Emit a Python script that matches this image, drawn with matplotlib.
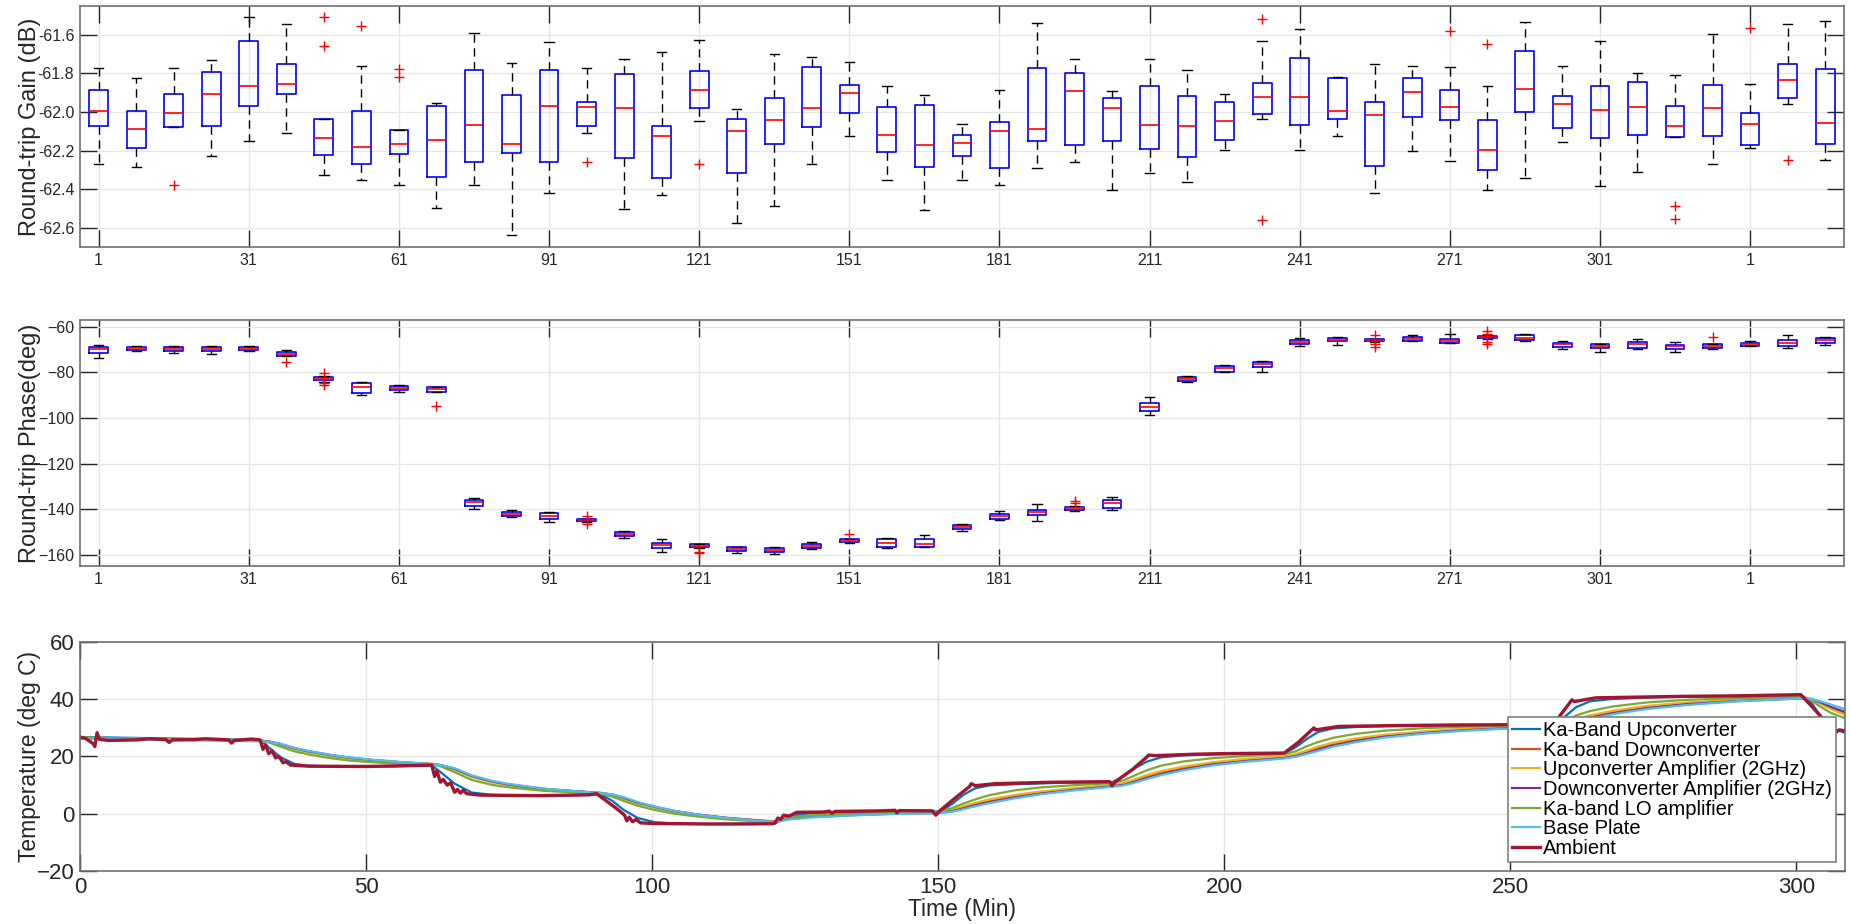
import numpy as np
import matplotlib.pyplot as plt

plt.rcParams['font.family'] = ['Liberation Sans', 'DejaVu Sans']

# ---------------------------------------------------------------- box data
# 47 windows, x tick every 4th window
tick_labels = ['1', '31', '61', '91', '121', '151', '181', '211', '241', '271', '301', '1']

gain_hi = [-61.772, -61.826, -61.772, -61.729, -61.505, -61.545, -62.036, -61.759, -62.091, -61.953,
           -61.588, -61.747, -61.636, -61.769, -61.724, -61.691, -61.626, -61.984, -61.700, -61.712,
           -61.738, -61.867, -61.914, -62.062, -61.888, -61.536, -61.726, -61.893, -61.726, -61.784,
           -61.905, -61.634, -61.569, -61.816, -61.750, -61.760, -61.764, -61.864, -61.531, -61.759,
           -61.631, -61.795, -61.809, -61.595, -61.857, -61.545, -61.526]
gain_q3 = [-61.888, -61.997, -61.905, -61.790, -61.629, -61.750, -62.036, -61.997, -62.091, -61.971,
           -61.781, -61.914, -61.781, -61.948, -61.802, -62.074, -61.786, -62.034, -61.926, -61.767,
           -61.862, -61.976, -61.962, -62.121, -62.053, -61.772, -61.795, -61.929, -61.864, -61.916,
           -61.948, -61.850, -61.721, -61.824, -61.948, -61.826, -61.884, -62.043, -61.683, -61.916,
           -61.864, -61.843, -61.967, -61.862, -62.005, -61.752, -61.778]
gain_med = [-61.993, -62.088, -62.005, -61.907, -61.867, -61.855, -62.133, -62.183, -62.165, -62.143,
            -62.066, -62.164, -61.967, -61.974, -61.979, -62.126, -61.888, -62.097, -62.040, -61.979,
            -61.902, -62.117, -62.169, -62.160, -62.100, -62.086, -61.890, -61.979, -62.066, -62.071,
            -62.048, -61.924, -61.924, -61.993, -62.017, -61.897, -61.974, -62.195, -61.881, -61.959,
            -61.991, -61.974, -62.074, -61.979, -62.060, -61.833, -62.057]
gain_q1 = [-62.074, -62.186, -62.079, -62.071, -61.971, -61.907, -62.221, -62.267, -62.217, -62.336,
           -62.259, -62.212, -62.259, -62.071, -62.238, -62.341, -61.979, -62.315, -62.166, -62.078,
           -62.005, -62.205, -62.284, -62.226, -62.290, -62.152, -62.169, -62.152, -62.190, -62.233,
           -62.147, -62.010, -62.069, -62.036, -62.278, -62.028, -62.040, -62.302, -62.000, -62.083,
           -62.134, -62.117, -62.131, -62.126, -62.171, -61.928, -62.164]
gain_lo = [-62.272, -62.284, -62.079, -62.226, -62.152, -62.109, -62.328, -62.350, -62.380, -62.496,
           -62.376, -62.638, -62.422, -62.109, -62.502, -62.431, -62.045, -62.578, -62.488, -62.269,
           -62.122, -62.355, -62.509, -62.353, -62.376, -62.290, -62.259, -62.402, -62.315, -62.364,
           -62.198, -62.034, -62.195, -62.122, -62.422, -62.203, -62.252, -62.402, -62.341, -62.157,
           -62.384, -62.312, -62.131, -62.267, -62.188, -61.957, -62.247]
gain_out = {3: [-62.38], 7: [-61.505, -61.66], 8: [-61.553], 9: [-61.776, -61.816], 14: [-62.259],
            17: [-62.269], 32: [-61.519, -62.56], 37: [-61.579], 38: [-61.648], 43: [-62.488, -62.557],
            45: [-61.566], 46: [-62.25]}

phase_hi = [-68.0, -68.5, -68.5, -68.5, -68.5, -70.2, -81.6, -84.0, -85.4, -86.2,
            -135.0, -140.6, -141.1, -144.2, -149.5, -153.0, -155.2, -156.5, -156.8, -154.6,
            -153.0, -152.7, -151.4, -146.4, -141.0, -137.8, -138.5, -134.9, -90.6, -81.6,
            -76.7, -74.9, -64.8, -64.4, -65.3, -63.5, -62.9, -63.7, -63.1, -66.4,
            -67.6, -65.4, -66.6, -67.3, -66.4, -63.4, -64.4]
phase_q3 = [-68.8, -68.8, -68.8, -68.9, -68.9, -71.1, -82.1, -84.6, -85.9, -86.5,
            -136.0, -141.3, -141.9, -144.5, -150.1, -154.7, -155.5, -156.6, -157.1, -155.3,
            -153.3, -153.3, -153.3, -147.0, -142.2, -140.4, -139.1, -136.0, -93.6, -82.2,
            -77.0, -75.2, -65.6, -64.7, -65.4, -64.4, -65.1, -63.9, -63.5, -67.0,
            -67.7, -66.7, -67.9, -67.7, -67.0, -65.6, -64.8]
phase_med = [-69.9, -69.4, -69.6, -69.6, -69.6, -71.7, -82.8, -86.6, -86.9, -87.3,
             -137.0, -142.2, -143.0, -144.9, -150.9, -155.8, -156.1, -157.4, -157.8, -156.2,
             -153.9, -154.9, -155.3, -147.9, -143.0, -141.3, -139.7, -137.3, -95.1, -83.0,
             -78.1, -76.5, -66.7, -65.6, -65.8, -65.3, -66.0, -64.4, -64.7, -67.7,
             -68.3, -67.7, -68.6, -68.3, -67.5, -66.9, -65.6]
phase_q1 = [-71.4, -70.1, -70.5, -70.4, -70.2, -72.6, -83.4, -89.2, -87.9, -88.4,
            -138.5, -143.1, -144.3, -145.4, -152.0, -157.2, -156.8, -158.4, -158.7, -157.2,
            -154.4, -156.5, -156.5, -148.7, -144.2, -142.6, -140.4, -139.4, -97.0, -83.8,
            -79.6, -77.8, -67.7, -66.4, -66.4, -66.1, -67.0, -64.8, -65.8, -68.8,
            -69.2, -69.2, -69.5, -69.4, -68.2, -68.5, -67.0]
phase_lo = [-73.5, -70.4, -71.5, -72.0, -70.7, -72.9, -84.0, -90.0, -88.7, -88.5,
            -139.8, -143.6, -145.8, -145.7, -152.7, -159.0, -157.2, -159.1, -159.7, -157.5,
            -154.7, -157.2, -156.8, -149.8, -144.9, -145.2, -140.8, -140.3, -98.5, -84.1,
            -80.0, -79.9, -68.5, -68.0, -66.7, -66.4, -67.0, -65.1, -66.4, -69.9,
            -70.8, -69.9, -71.0, -69.9, -68.3, -69.1, -68.0]
phase_out = {6: [-75.5], 7: [-80.3, -84.8, -85.5], 10: [-94.6], 14: [-143.0, -146.5],
             17: [-158.7, -159.4], 21: [-150.8], 27: [-136.3, -137.3], 35: [-63.5, -67.7, -68.8],
             38: [-61.9, -62.9, -66.6, -67.7], 44: [-64.4]}

# ---------------------------------------------------------------- temperatures
temp_names = ['Ka-Band Upconverter', 'Ka-band Downconverter', 'Upconverter Amplifier (2GHz)',
              'Downconverter Amplifier (2GHz)', 'Ka-band LO amplifier', 'Base Plate', 'Ambient']
temp_colors = ['#0072BD', '#D95319', '#EDB120', '#7E2F8E', '#77AC30', '#4DBEEE', '#A2142F']

t_sens = [0, 31.5, 33, 35, 37.5, 40, 43.5, 47, 51, 56, 61.5,
          63, 65.5, 68.5, 72, 75, 81, 87, 91,
          93, 95, 97.5, 100.5, 104, 108, 113, 118, 121.5,
          124, 128, 135, 142, 150.5,
          152.5, 154.5, 156.5, 159, 163.5, 168, 174, 180.5,
          182.5, 184.5, 186.5, 189, 193, 198, 204, 210.5,
          212.5, 214.5, 216.5, 219, 223, 228, 235, 242, 250, 257.5,
          259.5, 261.5, 264, 268, 274, 281, 290, 301,
          302.5, 304, 306, 308.5]

ka_up = [26.8, 25.8, 23.2, 19.8, 17.4, 16.8, 16.6, 16.5, 16.5, 16.6, 16.9,
         14.6, 10.5, 7.4, 6.6, 6.4, 6.3, 6.5, 6.8,
         4.6, 1.4, -1.5, -3.0, -3.4, -3.5, -3.6, -3.6, -3.4,
         -0.9, 0.3, 0.6, 0.8, 0.8,
         3.5, 6.7, 8.9, 9.9, 10.3, 10.6, 10.9, 11.0,
         13.2, 16.0, 18.2, 19.7, 20.4, 20.7, 20.9, 21.0,
         23.2, 26.2, 28.6, 29.8, 30.3, 30.6, 30.8, 30.9, 31.0, 31.1,
         33.8, 37.2, 39.3, 40.1, 40.6, 40.9, 41.1, 41.3,
         39.3, 34.8, 30.0, 28.3]
ka_down = [26.5, 25.6, 25.3, 24.3, 22.8, 21.7, 20.5, 19.5, 18.7, 18.0, 17.4,
           17.0, 15.6, 13.0, 11.2, 10.1, 8.6, 7.8, 7.3,
           6.6, 5.4, 3.8, 2.3, 0.9, -0.3, -1.4, -2.2, -2.7,
           -1.6, -0.9, -0.3, 0.1, 0.4,
           1.2, 2.4, 3.5, 4.6, 6.2, 7.4, 8.7, 9.9,
           10.5, 11.7, 13.0, 14.4, 16.0, 17.6, 18.8, 19.8,
           20.5, 21.7, 23.0, 24.3, 25.9, 27.2, 28.5, 29.4, 30.1, 30.5,
           31.3, 32.6, 34.0, 35.6, 37.3, 38.6, 39.6, 40.4,
           40.1, 39.0, 37.0, 35.0]
up_amp = [26.6, 25.6, 25.2, 24.1, 22.6, 21.5, 20.3, 19.3, 18.5, 17.9, 17.4,
          16.9, 15.3, 12.8, 11.0, 10.0, 8.5, 7.7, 7.3,
          6.5, 5.2, 3.6, 2.1, 0.7, -0.5, -1.6, -2.4, -2.8,
          -1.5, -0.8, -0.2, 0.2, 0.5,
          1.4, 2.7, 3.8, 5.0, 6.6, 7.8, 9.0, 10.1,
          10.8, 12.1, 13.5, 14.9, 16.5, 18.0, 19.2, 20.1,
          20.8, 22.1, 23.5, 24.8, 26.3, 27.6, 28.8, 29.7, 30.3, 30.7,
          31.6, 33.0, 34.4, 36.0, 37.7, 38.9, 39.8, 40.5,
          40.0, 38.7, 36.6, 34.6]
down_amp = [26.4, 25.5, 25.2, 24.4, 22.9, 21.8, 20.6, 19.6, 18.8, 18.0, 17.3,
            17.0, 15.7, 13.2, 11.3, 10.2, 8.7, 7.8, 7.2,
            6.7, 5.6, 3.9, 2.4, 0.9, -0.3, -1.5, -2.3, -2.9,
            -1.8, -1.1, -0.5, 0.0, 0.3,
            0.9, 1.9, 2.9, 4.0, 5.7, 7.0, 8.4, 9.6,
            10.1, 11.2, 12.4, 13.8, 15.5, 17.2, 18.4, 19.5,
            20.1, 21.2, 22.4, 23.8, 25.4, 26.9, 28.2, 29.2, 29.9, 30.3,
            30.9, 32.1, 33.5, 35.1, 36.9, 38.3, 39.4, 40.3,
            40.1, 39.1, 37.4, 35.6]
lo_amp = [26.6, 25.6, 24.9, 23.5, 21.8, 20.7, 19.5, 18.6, 18.0, 17.5, 17.2,
          16.6, 14.5, 11.8, 10.1, 9.2, 8.0, 7.4, 7.0,
          6.0, 4.5, 2.8, 1.3, 0.0, -1.0, -2.0, -2.6, -2.9,
          -1.2, -0.5, 0.1, 0.4, 0.6,
          2.0, 3.6, 5.0, 6.5, 8.2, 9.2, 10.0, 10.7,
          11.7, 13.5, 15.2, 16.8, 18.3, 19.4, 20.2, 20.8,
          21.8, 23.6, 25.1, 26.5, 27.9, 29.0, 29.9, 30.4, 30.8, 31.0,
          32.3, 34.3, 35.9, 37.5, 38.9, 39.8, 40.4, 40.8,
          39.8, 37.7, 35.3, 33.4]
base_plate = [26.2, 25.3, 25.1, 24.5, 23.0, 21.9, 20.7, 19.7, 18.9, 18.1, 17.3,
              17.0, 15.9, 13.4, 11.5, 10.4, 8.8, 7.8, 7.2,
              6.8, 5.8, 4.1, 2.5, 1.0, -0.3, -1.5, -2.4, -3.0,
              -2.0, -1.3, -0.6, -0.1, 0.2,
              0.7, 1.6, 2.6, 3.7, 5.4, 6.8, 8.2, 9.4,
              9.9, 10.9, 12.1, 13.5, 15.2, 16.9, 18.2, 19.3,
              19.9, 20.9, 22.0, 23.4, 25.0, 26.6, 28.0, 29.0, 29.8, 30.2,
              30.7, 31.8, 33.1, 34.8, 36.6, 38.0, 39.3, 40.3,
              40.2, 39.4, 38.2, 36.6]

t_amb = [0, 1, 2.3, 2.6, 3.0, 3.4, 5, 10, 12, 15, 15.6, 16.2, 20, 22, 26, 26.5, 27, 30, 31.5,
         32, 32.5, 33, 33.6, 34.2, 34.8, 35.5, 36, 36.8, 40, 50, 55, 61.5,
         62, 62.4, 63, 63.5, 64.2, 64.8, 65.5, 66, 66.5, 67, 67.6, 70, 80, 89, 90.3,
         92, 94, 95.2, 95.6, 96, 96.6, 97.2, 98, 100, 110, 121,
         121.5, 122, 122.5, 123, 124, 125.3, 130, 131, 131.4, 132, 140, 142.5, 142.8, 143.2, 149,
         149.6, 150.3, 153, 155.5, 155.8, 156.5, 160, 170, 180,
         180.4, 181, 184, 186.5, 186.8, 188, 195, 200, 210.5,
         213, 215.7, 216, 220, 230, 240, 250, 257.5,
         259, 260.8, 261.2, 265, 280, 290, 300.8,
         302.5, 304.3, 306.5, 307, 307.5, 308.5]
ambient = [26.8, 26.3, 24.5, 23.5, 28.3, 26.0, 25.6, 25.8, 26.2, 25.9, 24.9, 25.8, 25.9, 26.2, 25.8, 24.7, 25.6, 26.1, 25.8,
           22.5, 24.0, 21.0, 22.0, 19.5, 20.0, 17.8, 18.2, 17.0, 16.6, 16.5, 16.7, 17.0,
           13.0, 15.0, 11.0, 12.0, 10.0, 10.8, 7.5, 8.5, 7.2, 8.2, 7.0, 6.5, 6.3, 6.6, 7.0,
           4.5, 1.5, -0.5, -2.5, -1.2, -2.8, -2.0, -3.2, -3.4, -3.6, -3.5,
           -3.2, -1.5, -2.0, -0.5, -0.8, 0.5, 0.6, 0.9, 0.2, 0.8, 1.0, 1.2, 0.3, 1.1, 1.0,
           -0.5, 1.0, 5.5, 9.5, 10.5, 9.8, 10.5, 11.0, 11.2,
           9.8, 11.2, 15.5, 19.8, 20.5, 20.3, 20.8, 21.0, 21.2,
           25.0, 30.0, 29.3, 30.5, 30.8, 31.0, 31.1, 31.3,
           35.0, 39.8, 39.2, 40.5, 41.0, 41.2, 41.6,
           38.0, 34.0, 28.8, 28.5, 29.3, 29.0]

# ---------------------------------------------------------------- helpers
def box_stats(lo, q1, med, q3, hi, out):
  stats = []
  for i in range(len(med)):
    stats.append({'whislo': lo[i], 'q1': q1[i], 'med': med[i], 'q3': q3[i],
                  'whishi': hi[i], 'fliers': out.get(i + 1, [])})
  return stats

def style_axes(ax, fs):
  for s in ax.spines.values():
    s.set_color('#707070')
    s.set_linewidth(1.2)
  ax.tick_params(direction='in', length=12, width=1, top=True, right=True,
                 labelsize=fs, colors='#262626', pad=4)
  ax.grid(True, color='#e6e6e6', linewidth=1)
  ax.set_axisbelow(True)

def draw_boxes(ax, stats):
  n = len(stats)
  ax.bxp(stats, positions=np.arange(1, n + 1), widths=0.5, capwidths=0.25,
         boxprops=dict(color='blue', linewidth=1.2),
         medianprops=dict(color='red', linewidth=1.2),
         whiskerprops=dict(color='black', linewidth=1.0, linestyle=(0, (6, 4))),
         capprops=dict(color='black', linewidth=1.0),
         flierprops=dict(marker='+', markeredgecolor='red', markersize=7, markeredgewidth=1))
  ax.set_xlim(0.5, n + 0.5)
  ax.set_xticks(np.arange(1, n + 1, 4))
  ax.set_xticklabels(tick_labels)

# ---------------------------------------------------------------- figure
fig = plt.figure(figsize=(18.5, 9.24), dpi=100)
ax1 = fig.add_axes([0.0432, 0.7327, 0.9535, 0.2608])
ax2 = fig.add_axes([0.0432, 0.3874, 0.9535, 0.2662])
ax3 = fig.add_axes([0.0432, 0.0574, 0.9540, 0.2478])

draw_boxes(ax1, box_stats(gain_lo, gain_q1, gain_med, gain_q3, gain_hi, gain_out))
ax1.set_ylim(-62.70, -61.45)
ax1.set_yticks([-62.6, -62.4, -62.2, -62.0, -61.8, -61.6])
ax1.set_yticklabels(['-62.6', '-62.4', '-62.2', '-62.0', '-61.8', '-61.6'])
style_axes(ax1, 11.5)
ax1.set_ylabel('Round-trip Gain (dB)', fontsize=17, color='#262626')

draw_boxes(ax2, box_stats(phase_lo, phase_q1, phase_med, phase_q3, phase_hi, phase_out))
ax2.set_ylim(-165, -57)
ax2.set_yticks([-160, -140, -120, -100, -80, -60])
style_axes(ax2, 11.5)
ax2.set_ylabel('Round-trip Phase(deg)', fontsize=17, color='#262626')

series = [ka_up, ka_down, up_amp, down_amp, lo_amp, base_plate]
for i in range(len(series)):
  ax3.plot(t_sens, series[i], color=temp_colors[i], linewidth=1.6, label=temp_names[i])
ax3.plot(t_amb, ambient, color=temp_colors[6], linewidth=2.4, label=temp_names[6])
ax3.set_xlim(0, 308.5)
ax3.set_ylim(-20, 60)
ax3.set_xticks([0, 50, 100, 150, 200, 250, 300])
ax3.set_yticks([-20, 0, 20, 40, 60])
style_axes(ax3, 16)
ax3.set_xlabel('Time (Min)', fontsize=16.5, color='#262626', labelpad=0)
ax3.set_ylabel('Temperature (deg C)', fontsize=16.5, color='#262626')
leg = ax3.legend(loc='lower right', fontsize=14.5, frameon=True, fancybox=False,
                 framealpha=1, edgecolor='#808080', borderpad=0.2, labelspacing=0.03,
                 handlelength=1.4, handletextpad=0.12, borderaxespad=0.45)
leg.get_frame().set_linewidth(1.2)

for ax in [ax1, ax2, ax3]:
  ax.yaxis.set_label_coords(-0.022, 0.5)

fig.savefig('out.png', dpi=100)
